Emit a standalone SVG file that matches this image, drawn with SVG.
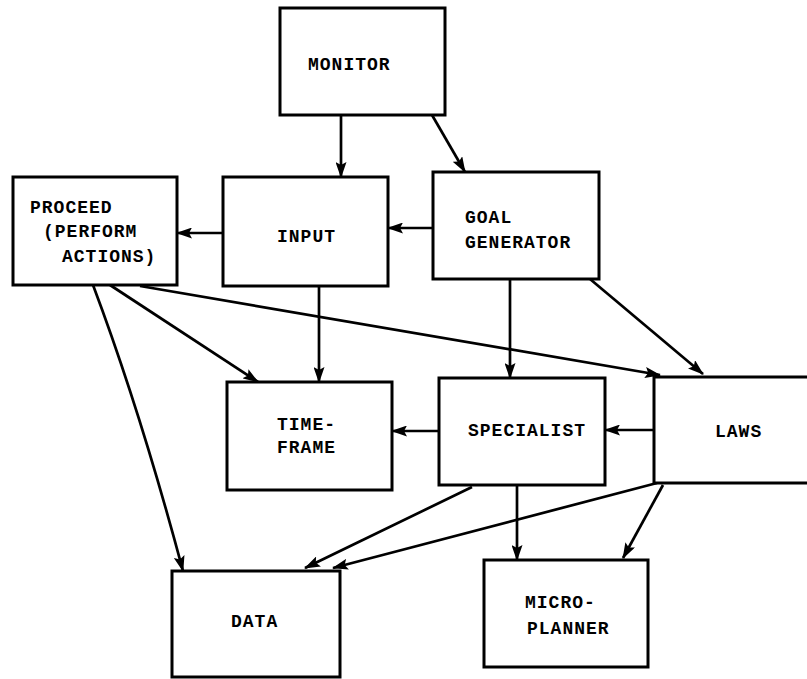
<svg xmlns="http://www.w3.org/2000/svg" width="807" height="679" viewBox="0 0 807 679">
<style>
.box{fill:#fff;stroke:#000;stroke-width:3}
.lbl{font-family:"Liberation Mono","DejaVu Sans Mono",monospace;font-weight:bold;font-size:18px;letter-spacing:1px;fill:#000}
.c{fill:none;stroke:#000;stroke-width:2.7;marker-end:url(#ah)}
</style>
<defs>
<marker id="ah" markerUnits="userSpaceOnUse" markerWidth="16" markerHeight="11" refX="15" refY="5.5" orient="auto">
<path d="M0,0 L16,5.5 L0,11 L3,5.5 z" fill="#000"/>
</marker>
</defs>
<rect width="807" height="679" fill="#fff"/>
<g id="connectors">
<line class="c" x1="341" y1="115" x2="341" y2="177"/>
<line class="c" x1="432" y1="115" x2="465" y2="172"/>
<line class="c" x1="433" y1="228" x2="388" y2="228"/>
<line class="c" x1="223" y1="233" x2="177" y2="233"/>
<line class="c" x1="319" y1="286" x2="319" y2="382"/>
<line class="c" x1="110" y1="285" x2="258" y2="382"/>
<path class="c" d="M93,285 Q140,410 183,571"/>
<line class="c" x1="140" y1="286" x2="660" y2="375"/>
<line class="c" x1="510" y1="279" x2="510" y2="378"/>
<line class="c" x1="590" y1="279" x2="703" y2="374"/>
<line class="c" x1="439" y1="431" x2="392" y2="431"/>
<line class="c" x1="654" y1="430" x2="605" y2="430"/>
<line class="c" x1="472" y1="487" x2="305" y2="568"/>
<line class="c" x1="657" y1="483" x2="333" y2="568"/>
<line class="c" x1="517" y1="485" x2="517" y2="560"/>
<line class="c" x1="663" y1="485" x2="623" y2="558"/>
</g>
<g id="monitor">
<rect class="box" x="280" y="8" width="165" height="107"/>
<text class="lbl" x="308" y="70">MONITOR</text>
</g>
<g id="proceed">
<rect class="box" x="13" y="177" width="164" height="108"/>
<text class="lbl" x="30" y="213">PROCEED</text>
<text class="lbl" x="43" y="237">(PERFORM</text>
<text class="lbl" x="62" y="262">ACTIONS)</text>
</g>
<g id="input">
<rect class="box" x="223" y="177" width="165" height="109"/>
<text class="lbl" x="277" y="242">INPUT</text>
</g>
<g id="goal-generator">
<rect class="box" x="433" y="172" width="166" height="107"/>
<text class="lbl" x="465" y="223">GOAL</text>
<text class="lbl" x="465" y="248">GENERATOR</text>
</g>
<g id="time-frame">
<rect class="box" x="227" y="382" width="165" height="108"/>
<text class="lbl" x="277" y="430">TIME-</text>
<text class="lbl" x="277" y="453">FRAME</text>
</g>
<g id="specialist">
<rect class="box" x="439" y="378" width="166" height="107"/>
<text class="lbl" x="468" y="436">SPECIALIST</text>
</g>
<g id="laws">
<rect class="box" x="654" y="377" width="170" height="106"/>
<text class="lbl" x="715" y="437">LAWS</text>
</g>
<g id="data">
<rect class="box" x="172" y="571" width="168" height="106"/>
<text class="lbl" x="231" y="627">DATA</text>
</g>
<g id="micro-planner">
<rect class="box" x="484" y="560" width="164" height="107"/>
<text class="lbl" x="525" y="608">MICRO-</text>
<text class="lbl" x="527" y="634">PLANNER</text>
</g>
</svg>
